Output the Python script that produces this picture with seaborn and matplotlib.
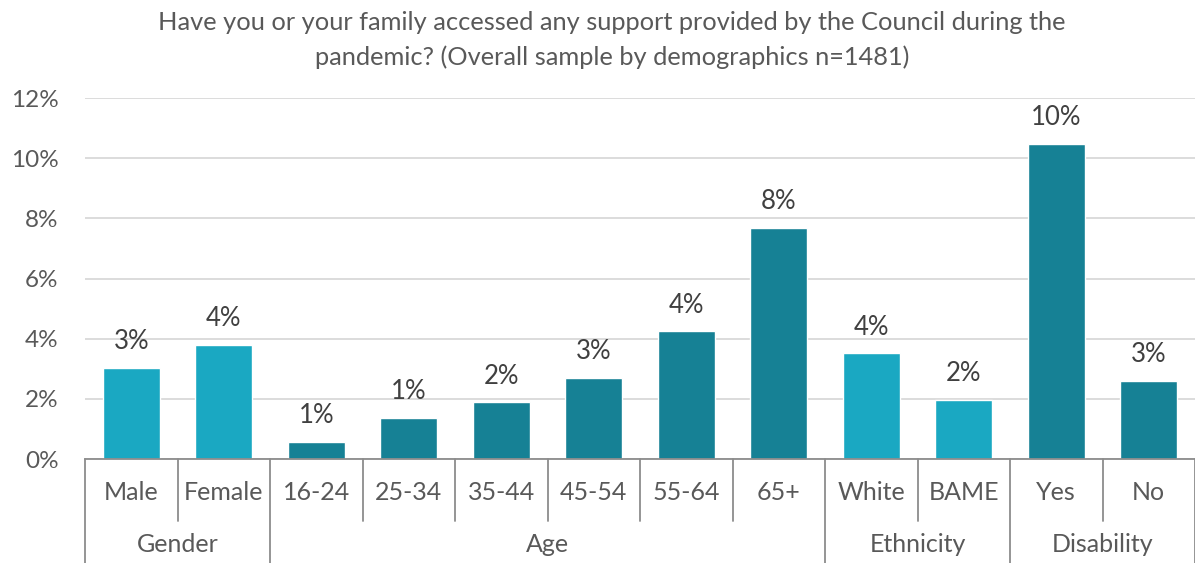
import pandas as pd
import matplotlib.pyplot as plt
import matplotlib.transforms as mtransforms
import seaborn as sns

# values (percent)
categories = ['Male', 'Female', '16-24', '25-34', '35-44', '45-54', '55-64', '65+',
              'White', 'BAME', 'Yes', 'No']
groups = ['Gender', 'Gender', 'Age', 'Age', 'Age', 'Age', 'Age', 'Age',
          'Ethnicity', 'Ethnicity', 'Disability', 'Disability']
values = [3.02, 3.79, 0.57, 1.36, 1.88, 2.69, 4.24, 7.67, 3.51, 1.96, 10.48, 2.60]
group_names = ['Gender', 'Age', 'Ethnicity', 'Disability']
yticks = [0, 2, 4, 6, 8, 10, 12]

light = '#1AA8C2'
dark = '#168195'
palette = {'Gender': light, 'Age': dark, 'Ethnicity': light, 'Disability': dark}

df = pd.DataFrame({'category': categories, 'group': groups, 'value': values})

sns.set_style('white')
plt.rcParams['font.family'] = ['Lato', 'DejaVu Sans']
text_col = '#595959'
line_col = '#8C8C8C'

fig = plt.figure(figsize=(11.95, 5.63), dpi=100)
ax = fig.add_axes([85 / 1195, 1 - 459 / 563, 1 - 85 / 1195, (459 - 98) / 563])

sns.barplot(data=df, x='category', y='value', hue='group', palette=palette,
            dodge=False, legend=False, width=0.62, saturation=1, ax=ax)

ax.set_ylim(0, 12)
ax.set_xlim(-0.5, len(categories) - 0.5)
ax.set_yticks(yticks)
ax.set_yticklabels([f'{t}%' for t in yticks], fontsize=17.5, color=text_col)
ax.tick_params(axis='y', length=0, pad=19)
ax.grid(axis='y', color='#D9D9D9', linewidth=1.3)
ax.set_axisbelow(True)
for s in ['left', 'right', 'top']:
    ax.spines[s].set_visible(False)
ax.spines['bottom'].set_color(line_col)
ax.spines['bottom'].set_linewidth(1.3)
ax.set_xticks([])
ax.set_xlabel('')
ax.set_ylabel('')

# value labels
for cont in ax.containers:
    labs = [f'{round(b.get_height())}%' if b.get_height() > 0 else '' for b in cont]
    ax.bar_label(cont, labels=labs, padding=10, fontsize=18.5, color='#404040')

# two-level category axis
trans = mtransforms.blended_transform_factory(ax.transData, ax.transAxes)
axh = (459 - 98)
for i, c in enumerate(categories):
    ax.text(i, -34 / axh, c, transform=trans, ha='center', va='center',
            fontsize=18, color=text_col)
for i in range(len(categories) + 1):
    if i == 0 or i == len(categories) or groups[i] != groups[i - 1]:
        ybot = -110 / axh
    else:
        ybot = -62 / axh
    ax.plot([i - 0.5, i - 0.5], [0, ybot], transform=trans, color=line_col,
            linewidth=1.3, clip_on=False)
for g in group_names:
    idx = [i for i, gg in enumerate(groups) if gg == g]
    ax.text((idx[0] + idx[-1]) / 2, -86 / axh, g, transform=trans, ha='center',
            va='center', fontsize=18, color=text_col)

fig.text(612 / 1195, 1 - 22 / 563,
         'Have you or your family accessed any support provided by the Council during the',
         ha='center', va='center', fontsize=18.3, color=text_col)
fig.text(612 / 1195, 1 - 57 / 563,
         'pandemic? (Overall sample by demographics n=1481)',
         ha='center', va='center', fontsize=18.3, color=text_col)

fig.savefig('out.png', dpi=100)
